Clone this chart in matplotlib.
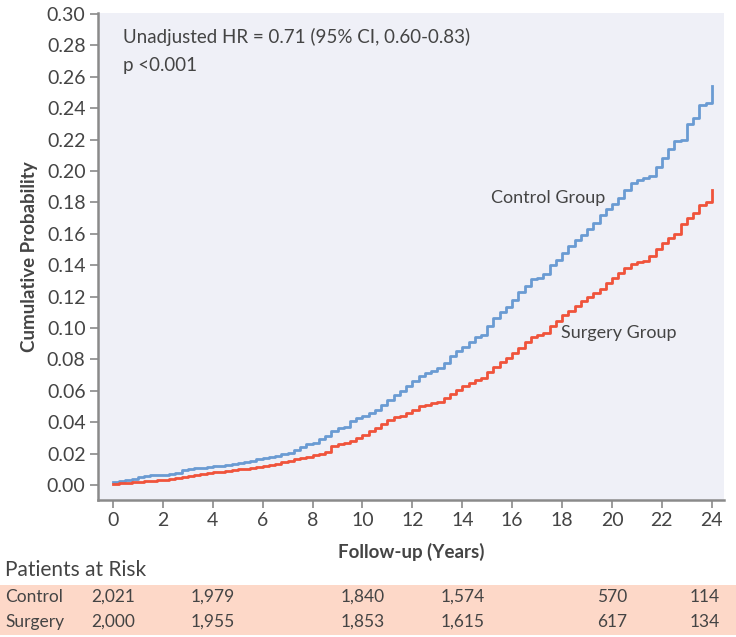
"""
Cumulative probability curves, control vs surgery, with a risk table.
"""
import matplotlib
matplotlib.use("Agg")
import matplotlib.pyplot as plt
from matplotlib.patches import Rectangle
from matplotlib.transforms import blended_transform_factory

plt.rcParams["font.family"] = ["Lato", "DejaVu Sans"]

# values, every quarter year (one line per year)
years = [i * 0.25 for i in range(97)]
control = [0.002, 0.0025, 0.003, 0.004,
           0.005, 0.0055, 0.006, 0.0062,
           0.0065, 0.007, 0.0078, 0.0095,
           0.010, 0.0105, 0.011, 0.0115,
           0.012, 0.0123, 0.0128, 0.0133,
           0.0138, 0.0147, 0.0155, 0.0162,
           0.017, 0.0177, 0.0185, 0.0197,
           0.0205, 0.0225, 0.0244, 0.0258,
           0.027, 0.029, 0.031, 0.0345,
           0.036, 0.0372, 0.041, 0.0425,
           0.044, 0.0455, 0.048, 0.051,
           0.054, 0.057, 0.060, 0.063,
           0.066, 0.0695, 0.071, 0.0725,
           0.0745, 0.0775, 0.082, 0.085,
           0.088, 0.091, 0.094, 0.0955,
           0.101, 0.106, 0.110, 0.1135,
           0.118, 0.123, 0.127, 0.131,
           0.132, 0.1345, 0.140, 0.1435,
           0.148, 0.152, 0.156, 0.159,
           0.163, 0.167, 0.172, 0.1755,
           0.179, 0.1825, 0.188, 0.192,
           0.194, 0.1955, 0.197, 0.2025,
           0.208, 0.214, 0.219, 0.2195,
           0.230, 0.2335, 0.242, 0.243,
           0.254]
surgery = [0.0006, 0.0009, 0.0012, 0.0016,
           0.002, 0.0023, 0.0026, 0.0029,
           0.0032, 0.0036, 0.0042, 0.0048,
           0.0055, 0.0062, 0.0068, 0.0074,
           0.008, 0.0085, 0.009, 0.0095,
           0.010, 0.0102, 0.0105, 0.0113,
           0.012, 0.0127, 0.0135, 0.0145,
           0.0153, 0.0162, 0.0172, 0.018,
           0.019, 0.020, 0.021, 0.0248,
           0.026, 0.027, 0.028, 0.030,
           0.032, 0.0345, 0.036, 0.039,
           0.0415, 0.043, 0.044, 0.046,
           0.048, 0.050, 0.051, 0.052,
           0.053, 0.0555, 0.058, 0.0605,
           0.063, 0.065, 0.067, 0.068,
           0.072, 0.075, 0.078, 0.081,
           0.084, 0.0875, 0.091, 0.094,
           0.0955, 0.097, 0.101, 0.1045,
           0.108, 0.111, 0.114, 0.117,
           0.120, 0.1225, 0.125, 0.1285,
           0.132, 0.135, 0.138, 0.141,
           0.142, 0.1425, 0.146, 0.1505,
           0.154, 0.157, 0.160, 0.166,
           0.170, 0.173, 0.178, 0.1805,
           0.188]

risk_years = [0, 4, 10, 14, 20, 24]
risk_control = ["2,021", "1,979", "1,840", "1,574", "570", "114"]
risk_surgery = ["2,000", "1,955", "1,853", "1,615", "617", "134"]

x_ticks = list(range(0, 25, 2))
y_ticks = [i / 100 for i in range(0, 31, 2)]

TEXT = "#444444"
SPINE = "#8a8a8a"
BLUE = "#6a9bd3"
RED = "#f0533b"

fig = plt.figure(figsize=(7.36, 6.37), dpi=100)
ax = fig.add_axes([0.1332, 0.2151, 0.8505, 0.7645])
ax.set_facecolor("#eff0f7")

ax.plot(years, control, drawstyle="steps-post", color=BLUE, lw=2.0)
ax.plot(years, surgery, drawstyle="steps-post", color=RED, lw=2.0)

ax.set_xlim(-0.6, 24.49)
ax.set_ylim(-0.0096, 0.3006)
ax.set_xticks(x_ticks)
ax.set_yticks(y_ticks)
ax.set_yticklabels([f"{v:.2f}" for v in y_ticks])
ax.tick_params(direction="out", length=6, width=1.2, color=SPINE,
               labelcolor=TEXT, labelsize=14, pad=3)
for side in ("top", "right"):
    ax.spines[side].set_visible(False)
for side in ("left", "bottom"):
    ax.spines[side].set_color(SPINE)
    ax.spines[side].set_linewidth(1.8)

ax.set_xlabel("Follow-up (Years)", fontsize=13.5, fontweight="bold", color=TEXT, labelpad=10)
ax.set_ylabel("Cumulative Probability", fontsize=13.5, fontweight="bold", color=TEXT, labelpad=6)

ax.text(0.4, 0.2853, "Unadjusted HR = 0.71 (95% CI, 0.60-0.83)", fontsize=13.5,
        color=TEXT, va="center")
ax.text(0.4, 0.2669, "p <0.001", fontsize=13.5, color=TEXT, va="center")
ax.text(15.15, 0.1828, "Control Group", fontsize=13, color=TEXT, va="center")
ax.text(17.95, 0.0968, "Surgery Group", fontsize=13, color=TEXT, va="center")

# risk table
fig.patches.append(Rectangle((0, 0.003), 1, 0.079, transform=fig.transFigure,
                             facecolor="#fdd8c8", edgecolor="none", zorder=-1))
fig.text(0.007, 0.105, "Patients at Risk", fontsize=15, color=TEXT, va="center")
trans = blended_transform_factory(ax.transData, fig.transFigure)
for label, counts, y in (("Control", risk_control, 0.0628), ("Surgery", risk_surgery, 0.0235)):
    fig.text(0.007, y, label, fontsize=12.5, color=TEXT, va="center")
    for i, (t, c) in enumerate(zip(risk_years, counts)):
        shift = -0.3 if i == len(counts) - 1 else 0.0
        fig.text(t + shift, y, c, transform=trans, fontsize=12.5, color=TEXT,
                 ha="center", va="center")

fig.savefig("out.png", dpi=100)
